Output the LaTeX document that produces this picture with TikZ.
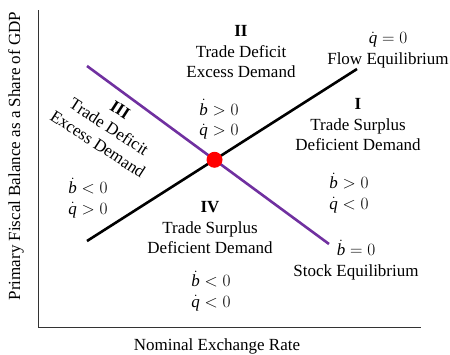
\documentclass[tikz,border=0pt]{standalone}
\usepackage{fontspec}
\setmainfont{Liberation Serif}
\usetikzlibrary{calc}
\definecolor{stockpurple}{HTML}{7030A0}
\newcommand{\bd}{\dot{\mathit{b}}}
\newcommand{\qd}{\dot{\mathit{q}}}
\begin{document}
\begin{tikzpicture}[x=1pt,y=-1pt,
  font=\fontsize{17}{20.5}\selectfont,
  lbl/.style={align=center,inner sep=0pt},
  axis/.style={draw=black!80,line width=0.9pt},
  flow/.style={draw=black,line width=2.6pt},
  stock/.style={draw=stockpurple,line width=2.6pt}]
\useasboundingbox (0,0) rectangle (450,354);
% axes
\coordinate (ytop) at (38,10);
\coordinate (orig) at (38,327);
\coordinate (xend) at (421,327);
\draw[axis] (ytop) -- (orig) -- (xend);
\node[lbl,rotate=90] (ylab) at (16,156) {Primary Fiscal Balance as a Share of GDP};
\node[lbl] (xlab) at (217,346) {Nominal Exchange Rate};
% lines
\coordinate (f1) at (87,241);
\coordinate (f2) at (357,69);
\coordinate (s1) at (87,66);
\coordinate (s2) at (329,244);
\draw[flow] (f1) -- (f2);
\draw[stock] (s1) -- (s2);
\node[circle,fill=red,inner sep=0pt,minimum size=16pt] (eq) at (intersection of f1--f2 and s1--s2) {};
% labels
\node[lbl] (II) at (241,52) {\textbf{II}\\Trade Deficit\\Excess Demand};
\node[lbl] (IIs) at (219,119.5) {$\bd > 0$\\$\qd > 0$};
\node[lbl] (flowlab) at (388,50) {$\qd = 0$\\Flow Equilibrium};
\node[lbl] (I) at (358,125) {\textbf{I}\\Trade Surplus\\Deficient Demand};
\node[lbl] (Is) at (349,193) {$\bd > 0$\\$\qd < 0$};
\node[lbl] (stocklab) at (356,260) {$\bd = 0$\\Stock Equilibrium};
\node[lbl] (IV) at (210,228) {\textbf{IV}\\Trade Surplus\\Deficient Demand};
\node[lbl] (IVs) at (211,291) {$\bd < 0$\\$\qd < 0$};
\node[lbl] (IIIs) at (88,198) {$\bd < 0$\\$\qd > 0$};
\node[lbl,rotate=-33] (III) at (109,127) {\textbf{III}\\Trade Deficit\\Excess Demand};
\end{tikzpicture}
\end{document}
